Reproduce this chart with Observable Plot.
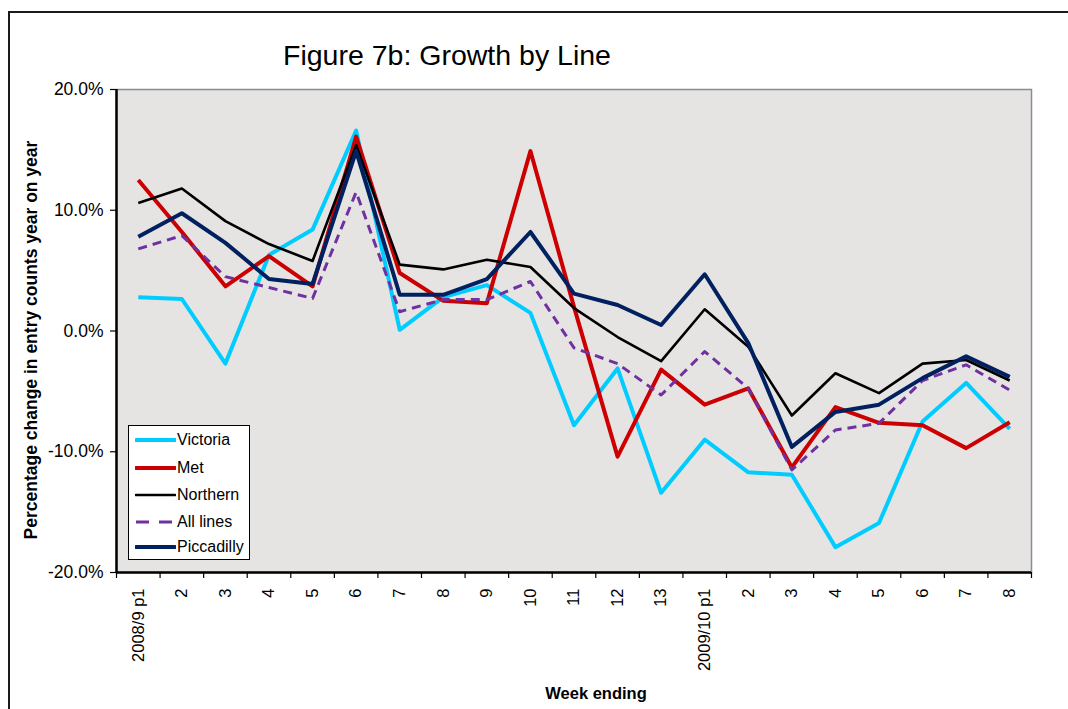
<!DOCTYPE html>
<html>
<head>
<meta charset="utf-8">
<script src="https://cdn.jsdelivr.net/npm/d3@7"></script>
<script src="https://cdn.jsdelivr.net/npm/@observablehq/plot@0.6"></script>
<style>
  html, body { margin: 0; padding: 0; background: #fff; }
  body { font-family: "Liberation Sans", Arial, sans-serif; }
  #wrap { position: relative; width: 1068px; height: 709px; overflow: hidden; }
  #border { position: absolute; left: 8px; top: 11px; width: 1100px; height: 760px;
            border-left: 2px solid #1a1a1a; border-top: 2px solid #1a1a1a; }
  #title { position: absolute; left: 0; width: 894px; top: 41px; text-align: center;
           font-size: 28.5px; line-height: 28px; color: #000; }
  #chart { position: absolute; left: 0; top: 0; }
  #legend { position: absolute; left: 128px; top: 425px; width: 120px; height: 133px;
            border: 1px solid #000; background: #fff; }
  .row { position: absolute; left: 0; height: 20px; display: flex; align-items: center; }
  .row svg { margin-left: 6px; }
  .row span { font-size: 16px; margin-left: 1px; color: #000; }
</style>
</head>
<body>
<div id="wrap">
  <div id="border"></div>
  <div id="chart"></div>
  <div id="title">Figure 7b: Growth by Line</div>
  <div id="legend"></div>
</div>
<script>
// Four-weekly periods (week ending)
const categories = ["2008/9 p1", "2", "3", "4", "5", "6", "7", "8", "9", "10", "11", "12", "13",
                    "2009/10 p1", "2", "3", "4", "5", "6", "7", "8"];

// Percentage change in entry counts, year on year
const victoria   = [2.8, 2.65, -2.7, 6.3, 8.4, 16.6, 0.1, 2.8, 3.8, 1.5, -7.8, -3.1, -13.4,
                    -9.0, -11.7, -11.9, -17.9, -15.9, -7.5, -4.3, -8.1];
const met        = [12.5, 8.2, 3.7, 6.2, 3.7, 16.1, 4.8, 2.5, 2.3, 14.9, 2.0, -10.4, -3.2,
                    -6.1, -4.75, -11.3, -6.3, -7.6, -7.8, -9.7, -7.55];
const northern   = [10.6, 11.8, 9.1, 7.2, 5.8, 15.4, 5.5, 5.1, 5.9, 5.3, 1.9, -0.5, -2.5,
                    1.8, -1.3, -7.0, -3.5, -5.15, -2.7, -2.4, -4.1];
const allLines   = [6.8, 7.9, 4.5, 3.6, 2.7, 11.5, 1.6, 2.6, 2.6, 4.1, -1.4, -2.7, -5.3,
                    -1.7, -4.75, -11.5, -8.2, -7.65, -4.1, -2.8, -4.9];
const piccadilly = [7.8, 9.75, 7.3, 4.3, 3.9, 14.9, 3.0, 3.0, 4.3, 8.2, 3.1, 2.15, 0.5,
                    4.7, -1.0, -9.6, -6.7, -6.1, -3.9, -2.1, -3.8];

const yTicks = [-20, -10, 0, 10, 20];

// Series in drawing order (later ones on top)
const series = [
  {name: "Victoria",   values: victoria,   stroke: "#00ccff", width: 4,   dash: null},
  {name: "Met",        values: met,        stroke: "#cc0000", width: 4,   dash: null},
  {name: "Northern",   values: northern,   stroke: "#000000", width: 2.6, dash: null},
  {name: "All lines",  values: allLines,   stroke: "#7030a0", width: 3,   dash: "9,6"},
  {name: "Piccadilly", values: piccadilly, stroke: "#002060", width: 4,   dash: null}
];

const idx = d3.range(categories.length);
const font = "'Liberation Sans', Arial, sans-serif";

const lineMarks = series.map(s =>
  Plot.line(idx, {
    x: i => i,
    y: i => s.values[i],
    stroke: s.stroke,
    strokeWidth: s.width,
    strokeDasharray: s.dash,
    strokeLinejoin: "round",
    strokeLinecap: "butt"
  })
);

const chart = Plot.plot({
  width: 1068,
  height: 709,
  marginLeft: 116,
  marginRight: 37,
  marginTop: 89,
  marginBottom: 137,
  style: {fontFamily: font, fontSize: "16px", color: "#000", background: "transparent", overflow: "visible"},
  x: {type: "linear", domain: [-0.5, categories.length - 0.5]},
  y: {domain: [-20, 20]},
  marks: [
    Plot.frame({fill: "#e6e4e3", stroke: "#8c8c8c", strokeWidth: 1.5}),
    // category boundary ticks
    Plot.axisX({
      ticks: d3.range(categories.length + 1).map(i => i - 0.5),
      tickSize: 6, tickFormat: () => "", stroke: "#000", strokeWidth: 1.2, label: null
    }),
    // category labels
    Plot.axisX({
      ticks: idx, tickSize: 0, tickPadding: 16, tickRotate: -90,
      tickFormat: i => categories[i], fontSize: 16.5, label: null
    }),
    Plot.axisY({
      ticks: yTicks, tickSize: 6, tickPadding: 7, stroke: "#000", strokeWidth: 1.2,
      tickFormat: d => d.toFixed(1) + "%", fontSize: 17.5, label: null
    }),
    ...lineMarks,
    Plot.ruleX([-0.5], {stroke: "#000", strokeWidth: 2.5}),
    Plot.ruleY([-20], {stroke: "#000", strokeWidth: 2.5}),
    Plot.text(["Percentage change in entry counts year on year"], {
      frameAnchor: "left", textAnchor: "middle", rotate: -90, dx: -85, dy: 9,
      fontWeight: "bold", fontSize: 17.5, fill: "#000"
    }),
    Plot.text(["Week ending"], {
      frameAnchor: "bottom", dx: 22, dy: 126,
      fontWeight: "bold", fontSize: 16.5, fill: "#000"
    })
  ]
});
document.getElementById("chart").appendChild(chart);

// Legend
const legend = document.getElementById("legend");
const rowCenters = [14, 42, 69, 96, 121];
series.forEach((s, k) => {
  const row = document.createElement("div");
  row.className = "row";
  row.style.top = (rowCenters[k] - 10) + "px";
  const ns = "http://www.w3.org/2000/svg";
  const svg = document.createElementNS(ns, "svg");
  svg.setAttribute("width", 41);
  svg.setAttribute("height", 10);
  const ln = document.createElementNS(ns, "line");
  ln.setAttribute("x1", 1); ln.setAttribute("x2", 40);
  ln.setAttribute("y1", 5); ln.setAttribute("y2", 5);
  ln.setAttribute("stroke", s.stroke);
  ln.setAttribute("stroke-width", s.width);
  ln.setAttribute("stroke-linecap", "round");
  if (s.dash) { ln.setAttribute("stroke-dasharray", "13,10"); ln.setAttribute("stroke-linecap", "butt"); }
  svg.appendChild(ln);
  const label = document.createElement("span");
  label.textContent = s.name;
  row.appendChild(svg);
  row.appendChild(label);
  legend.appendChild(row);
});
</script>
</body>
</html>
